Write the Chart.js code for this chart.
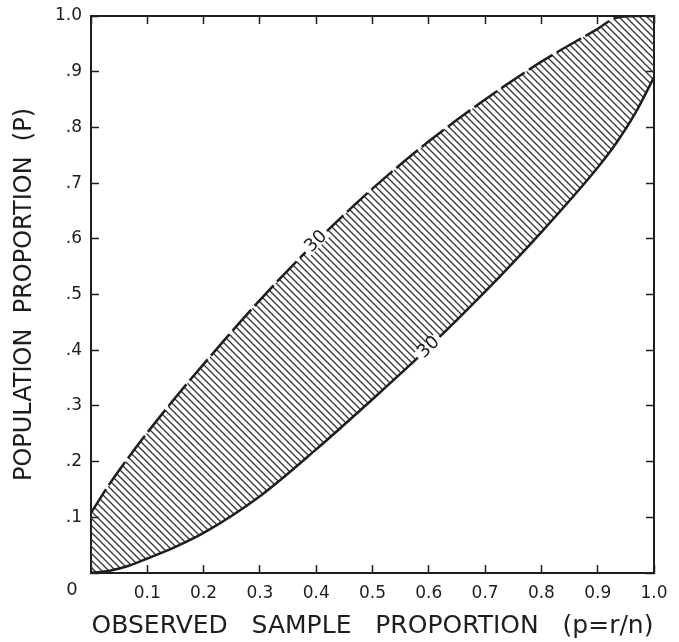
<!DOCTYPE html>
<html>
<head>
<meta charset="utf-8">
<script src="https://cdn.jsdelivr.net/npm/chart.js@4/dist/chart.umd.min.js"></script>
<style>
  html, body { margin: 0; padding: 0; background: #fff; }
  #wrap { width: 679px; height: 642px; }
</style>
</head>
<body>
<div id="wrap"><canvas id="belt"></canvas></div>
<script>
// observed sample proportion p = r/n
var sampleP = [0, 0.033, 0.067, 0.1, 0.15, 0.2, 0.3, 0.4, 0.5, 0.6, 0.7, 0.8, 0.9, 0.933, 0.967, 1.0];
// lower limit of population proportion (n = 30), solid curve
var lowerP = [0, 0.004, 0.013, 0.026, 0.047, 0.072, 0.138, 0.222, 0.312, 0.405, 0.505, 0.612, 0.728, 0.772, 0.826, 0.89];
// upper limit (n = 30), dashed curve
var upperP = [0.108, 0.16, 0.208, 0.252, 0.315, 0.375, 0.49, 0.595, 0.69, 0.775, 0.85, 0.918, 0.977, 0.997, 1.0, 1.0];
var xTicks = ['', '0.1', '0.2', '0.3', '0.4', '0.5', '0.6', '0.7', '0.8', '0.9', '1.0'];
var yTicks = ['', '.1', '.2', '.3', '.4', '.5', '.6', '.7', '.8', '.9', '1.0'];
var curveLabels = [
  { ds: 1, at: 0.4, text: '30' },
  { ds: 0, at: 0.6, text: '30' }
];

var ink = '#1e1e1e';

// diagonal hatching for the belt
var pc = document.createElement('canvas');
pc.width = 7; pc.height = 7;
var g = pc.getContext('2d');
g.strokeStyle = '#333';
g.lineWidth = 1.3;
g.beginPath();
g.moveTo(-1, -1); g.lineTo(8, 8);
g.moveTo(-1, 6); g.lineTo(1, 8);
g.moveTo(6, -1); g.lineTo(8, 1);
g.stroke();
var hatch = g.createPattern(pc, 'repeat');

function pts(ys) {
  return sampleP.map(function (x, i) { return { x: x, y: ys[i] }; });
}

var labelPlugin = {
  id: 'curveLabels',
  afterDatasetsDraw: function (chart) {
    var ctx = chart.ctx;
    ctx.save();
    ctx.font = '18px "DejaVu Sans"';
    ctx.textAlign = 'center';
    ctx.textBaseline = 'middle';
    curveLabels.forEach(function (l) {
      var meta = chart.getDatasetMeta(l.ds);
      var i = sampleP.indexOf(l.at);
      var p = meta.data[i], a = meta.data[i - 1], b = meta.data[i + 1];
      var ang = Math.atan2(b.y - a.y, b.x - a.x);
      ctx.save();
      ctx.translate(p.x, p.y);
      ctx.rotate(ang);
      ctx.fillStyle = '#fff';
      ctx.fillRect(-15, -6, 30, 12);
      ctx.fillStyle = ink;
      ctx.fillText(l.text, 0, 0);
      ctx.restore();
    });
    // shared origin label
    var xs = chart.scales.x, ys = chart.scales.y;
    ctx.font = '18px "DejaVu Sans"';
    ctx.fillStyle = ink;
    ctx.fillText('0', xs.getPixelForValue(0) - 19, ys.getPixelForValue(0) + 17);
    ctx.restore();
  }
};

function axisGrid() {
  return { drawOnChartArea: false, drawTicks: true, tickLength: -8, tickWidth: 1.5, color: ink };
}

new Chart(document.getElementById('belt'), {
  type: 'line',
  data: {
    datasets: [
      {
        label: 'lower',
        data: pts(lowerP),
        borderColor: ink,
        borderWidth: 2.5,
        pointRadius: 0,
        cubicInterpolationMode: 'monotone',
        fill: false
      },
      {
        label: 'upper',
        data: pts(upperP),
        borderColor: ink,
        borderWidth: 2.5,
        borderDash: [28, 5],
        pointRadius: 0,
        cubicInterpolationMode: 'monotone',
        backgroundColor: hatch,
        fill: '-1'
      }
    ]
  },
  options: {
    responsive: true,
    maintainAspectRatio: false,
    animation: false,
    layout: { padding: { top: 16, right: 25, left: 0, bottom: 0 } },
    plugins: { legend: { display: false }, tooltip: { enabled: false } },
    scales: {
      x: {
        type: 'linear', position: 'bottom', min: 0, max: 1,
        grid: axisGrid(),
        border: { display: true, color: ink, width: 2 },
        ticks: {
          stepSize: 0.1, padding: 18, color: ink, maxRotation: 0, autoSkip: false,
          font: { family: 'DejaVu Sans', size: 17 },
          callback: function (v) { return xTicks[Math.round(v * 10)]; }
        },
        title: {
          display: true, text: 'OBSERVED   SAMPLE   PROPORTION   (p=r/n)', color: ink,
          font: { family: 'DejaVu Sans', size: 25 }, padding: { top: 0, bottom: 1 }
        },
        afterFit: function (s) { s.height = 69; s.paddingLeft = 0; s.paddingRight = 0; }
      },
      y: {
        type: 'linear', position: 'left', min: 0, max: 1,
        grid: axisGrid(),
        border: { display: true, color: ink, width: 2 },
        ticks: {
          stepSize: 0.1, padding: 17, color: ink, autoSkip: false,
          font: { family: 'DejaVu Sans', size: 17 },
          callback: function (v) { return yTicks[Math.round(v * 10)]; }
        },
        title: {
          display: true, text: 'POPULATION  PROPORTION  (P)', color: ink,
          font: { family: 'DejaVu Sans', size: 24 }, padding: { top: 10, bottom: 0 }
        },
        afterFit: function (s) { s.width = 91; s.paddingTop = 0; s.paddingBottom = 0; }
      },
      x2: {
        type: 'linear', position: 'top', min: 0, max: 1,
        grid: axisGrid(),
        border: { display: true, color: ink, width: 2 },
        ticks: { stepSize: 0.1, display: false },
        afterFit: function (s) { s.height = 0; s.paddingLeft = 0; s.paddingRight = 0; }
      },
      y2: {
        type: 'linear', position: 'right', min: 0, max: 1,
        grid: axisGrid(),
        border: { display: true, color: ink, width: 2 },
        ticks: { stepSize: 0.1, display: false },
        afterFit: function (s) { s.width = 0; s.paddingTop = 0; s.paddingBottom = 0; }
      }
    }
  },
  plugins: [labelPlugin]
});
</script>
</body>
</html>
